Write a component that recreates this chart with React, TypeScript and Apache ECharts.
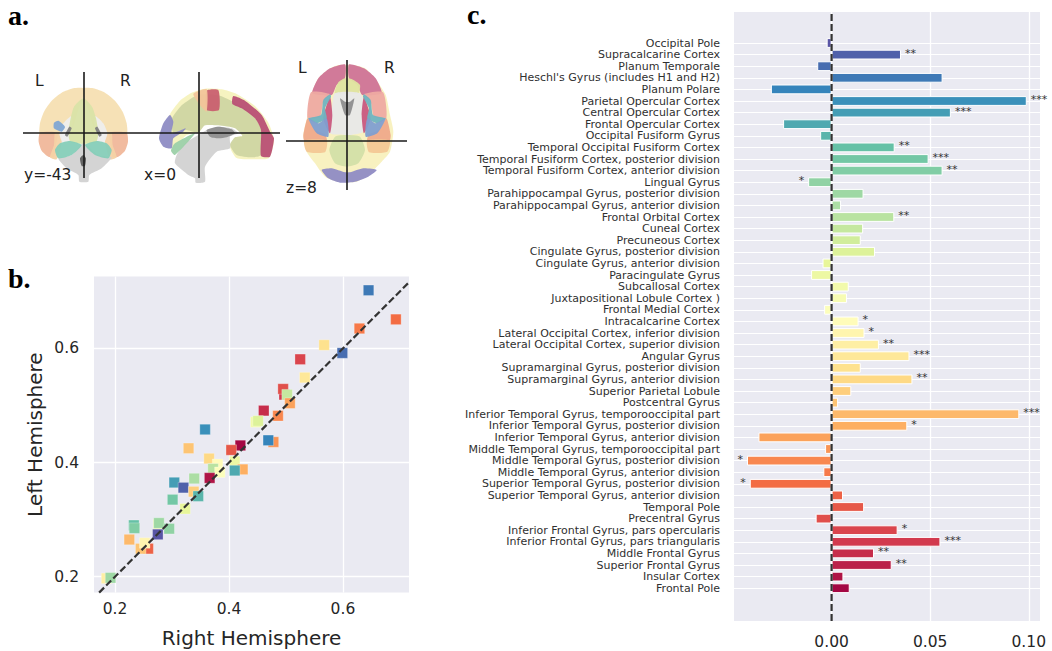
import React, { useEffect, useRef } from "react";
import * as echarts from "echarts";

const regions = [
  "Occipital Pole", "Supracalcarine Cortex", "Planum Temporale", "Heschl's Gyrus (includes H1 and H2)", "Planum Polare",
  "Parietal Opercular Cortex", "Central Opercular Cortex", "Frontal Opercular Cortex", "Occipital Fusiform Gyrus",
  "Temporal Occipital Fusiform Cortex", "Temporal Fusiform Cortex, posterior division", "Temporal Fusiform Cortex, anterior division",
  "Lingual Gyrus", "Parahippocampal Gyrus, posterior division", "Parahippocampal Gyrus, anterior division", "Frontal Orbital Cortex",
  "Cuneal Cortex", "Precuneous Cortex", "Cingulate Gyrus, posterior division", "Cingulate Gyrus, anterior division",
  "Paracingulate Gyrus", "Subcallosal Cortex", "Juxtapositional Lobule Cortex )", "Frontal Medial Cortex", "Intracalcarine Cortex",
  "Lateral Occipital Cortex, inferior division", "Lateral Occipital Cortex, superior division", "Angular Gyrus",
  "Supramarginal Gyrus, posterior division", "Supramarginal Gyrus, anterior division", "Superior Parietal Lobule", "Postcentral Gyrus",
  "Inferior Temporal Gyrus, temporooccipital part", "Inferior Temporal Gyrus, posterior division", "Inferior Temporal Gyrus, anterior division",
  "Middle Temporal Gyrus, temporooccipital part", "Middle Temporal Gyrus, posterior division", "Middle Temporal Gyrus, anterior division",
  "Superior Temporal Gyrus, posterior division", "Superior Temporal Gyrus, anterior division", "Temporal Pole", "Precentral Gyrus",
  "Inferior Frontal Gyrus, pars opercularis", "Inferior Frontal Gyrus, pars triangularis", "Middle Frontal Gyrus", "Superior Frontal Gyrus",
  "Insular Cortex", "Frontal Pole",
];
const asymmetry = [
  -0.0025, 0.0352, -0.0073, 0.0563, -0.0308, 0.099, 0.0605, -0.0246, -0.0058, 0.032, 0.0492, 0.0563,
  -0.0119, 0.0162, 0.0048, 0.0318, 0.016, 0.0148, 0.022, -0.0046, -0.0104, 0.0087, 0.0078, -0.0038,
  0.0137, 0.0167, 0.024, 0.0395, 0.0148, 0.041, 0.01, 0.0033, 0.0952, 0.0384, -0.0371, -0.0033,
  -0.0429, -0.0042, -0.0415, 0.0058, 0.0165, -0.0081, 0.0335, 0.0552, 0.0215, 0.0305, 0.006, 0.0092,
];
const stars = [
  "", "**", "", "", "", "***", "***", "", "", "**", "***", "**",
  "*", "", "", "**", "", "", "", "", "", "", "", "",
  "*", "*", "**", "***", "", "**", "", "", "***", "*", "", "",
  "*", "", "*", "", "", "", "*", "***", "**", "**", "", "",
];
const rightHemisphere = [
  0.645, 0.693, 0.629, 0.567, 0.599, 0.525, 0.533, 0.497, 0.495, 0.502, 0.507, 0.461, 0.486, 0.447, 0.451, 0.478,
  0.469, 0.358, 0.329, 0.42, 0.404, 0.365, 0.38, 0.41, 0.372, 0.424, 0.41, 0.384, 0.366, 0.339, 0.304, 0.32,
  0.338, 0.346, 0.301, 0.323, 0.233, 0.234, 0.276, 0.277, 0.295, 0.275, 0.225, 0.258, 0.245, 0.252, 0.185, 0.192,
];
const leftHemisphere = [
  0.702, 0.651, 0.635, 0.606, 0.592, 0.581, 0.549, 0.519, 0.529, 0.519, 0.504, 0.491, 0.482, 0.471, 0.473, 0.436,
  0.439, 0.458, 0.425, 0.43, 0.422, 0.407, 0.397, 0.402, 0.389, 0.388, 0.386, 0.383, 0.373, 0.372, 0.365, 0.356,
  0.349, 0.341, 0.335, 0.319, 0.29, 0.285, 0.292, 0.294, 0.284, 0.274, 0.265, 0.249, 0.249, 0.259, 0.197, 0.198,
];
const scatterRegionIndex = [
  3, 38, 37, 28, 2, 42, 27, 43, 41, 16, 34, 44, 36, 21, 18, 35,
  4, 5, 31, 47, 40, 29, 24, 20, 15, 33, 7, 23, 46, 14, 6, 1,
  30, 8, 10, 19, 9, 11, 22, 13, 12, 0, 32, 39, 31, 25, 26, 13,
];
const xTicks = [0.2, 0.4, 0.6];
const yTicks = [0.2, 0.4, 0.6];
const barTicks = [0, 0.05, 0.1];

const spectral = ["#5e4fa2", "#3288bd", "#66c2a5", "#abdda4", "#e6f598", "#ffffbf", "#fee08b", "#fdae61", "#f46d43", "#d53e4f", "#9e0142"];
function paletteColor(i: number, n: number) {
  const t = ((i + 0.5) / n) * (spectral.length - 1);
  const k = Math.min(Math.floor(t), spectral.length - 2);
  const f = t - k;
  const a = parseInt(spectral[k].slice(1), 16);
  const b = parseInt(spectral[k + 1].slice(1), 16);
  const c = [16, 8, 0].map((s) => Math.round(((a >> s) & 255) * (1 - f) + ((b >> s) & 255) * f));
  return `rgb(${c[0]},${c[1]},${c[2]})`;
}

type Shape = { fill: string; pts: number[][]; mirror?: boolean };
const coronal: Shape[] = [
  { fill: "#f5dfb2", mirror: true, pts: [[160, 25], [130, 25], [95, 38], [65, 62], [42, 95], [30, 130], [30, 165], [90, 165], [125, 150], [145, 90], [160, 50]] },
  { fill: "#f0b79a", mirror: true, pts: [[30, 158], [26, 185], [35, 212], [55, 230], [72, 232], [78, 195], [82, 158]] },
  { fill: "#f4d2a5", mirror: true, pts: [[75, 158], [95, 160], [95, 190], [80, 238], [60, 232], [72, 195]] },
  { fill: "#eeeeee", mirror: true, pts: [[125, 108], [100, 130], [88, 160], [98, 188], [125, 180]] },
  { fill: "#d9e3a8", pts: [[160, 55], [132, 80], [122, 115], [115, 160], [122, 187], [160, 192], [198, 187], [205, 160], [198, 115], [186, 80]] },
  { fill: "#d2d2d2", pts: [[160, 190], [125, 225], [85, 235], [110, 265], [145, 285], [148, 305], [175, 305], [178, 285], [215, 265], [245, 232], [205, 225]] },
  { fill: "#86cdb8", mirror: true, pts: [[120, 183], [90, 190], [75, 210], [85, 235], [125, 225], [155, 195]] },
  { fill: "#7f7f7f", mirror: true, pts: [[118, 140], [125, 145], [112, 170], [105, 165]] },
  { fill: "#5f5f5f", pts: [[160, 225], [168, 235], [165, 258], [155, 258], [150, 235]] },
  { fill: "#7fa6d4", pts: [[72, 128], [85, 122], [105, 140], [95, 155], [72, 145]] },
];
const sagittal: Shape[] = [
  { fill: "#f5f2bd", pts: [[42, 110], [75, 62], [110, 38], [150, 26], [200, 28], [245, 42], [300, 78], [340, 128], [357, 180], [342, 234], [300, 238], [245, 234], [225, 200], [245, 172], [280, 165], [250, 145], [190, 130], [150, 130], [130, 155], [95, 165], [50, 205]] },
  { fill: "#cfd5a2", pts: [[50, 118], [80, 76], [130, 44], [190, 46], [235, 66], [290, 100], [320, 150], [318, 225], [290, 232], [245, 225], [225, 195], [240, 172], [262, 168], [240, 145], [190, 136], [150, 136], [130, 158], [92, 150], [55, 158]] },
  { fill: "#d2d2d2", pts: [[130, 165], [90, 190], [65, 225], [60, 250], [100, 285], [120, 295], [122, 308], [150, 305], [150, 260], [185, 215], [225, 205], [225, 170], [250, 160], [230, 145], [190, 140], [155, 150]] },
  { fill: "#8f8f8f", pts: [[155, 150], [190, 140], [230, 148], [240, 160], [215, 172], [190, 175], [165, 170]] },
  { fill: "#b84f74", pts: [[235, 48], [270, 62], [320, 105], [345, 155], [357, 175], [345, 230], [318, 228], [318, 150], [300, 115], [260, 85], [232, 72]] },
  { fill: "#c96070", pts: [[155, 32], [190, 30], [192, 90], [155, 90]] },
  { fill: "#f2c49a", pts: [[115, 42], [155, 28], [155, 95], [135, 75]] },
  { fill: "#8e8cc4", pts: [[45, 105], [55, 125], [50, 160], [92, 145], [85, 155], [55, 175], [50, 205], [25, 200], [12, 175], [25, 130]] },
  { fill: "#9cd0a8", pts: [[48, 212], [60, 190], [120, 160], [60, 225]] },
];
const axial: Shape[] = [
  { fill: "#f8f0bd", pts: [[130, 30], [105, 40], [70, 70], [48, 120], [38, 180], [25, 240], [35, 290], [60, 325], [90, 365], [130, 380], [185, 380], [220, 360], [260, 320], [285, 290], [295, 230], [285, 180], [272, 120], [240, 70], [210, 40], [175, 30]] },
  { fill: "#cf7397", mirror: true, pts: [[150, 28], [105, 40], [70, 70], [52, 115], [110, 120], [125, 90], [150, 70]] },
  { fill: "#eeaaa2", mirror: true, pts: [[48, 112], [105, 118], [85, 140], [75, 185], [38, 190]] },
  { fill: "#efa98a", mirror: true, pts: [[38, 190], [25, 240], [28, 256], [95, 256], [90, 238], [60, 225]] },
  { fill: "#f3c795", mirror: true, pts: [[28, 256], [35, 290], [90, 292], [95, 256]] },
  { fill: "#8f8bc4", pts: [[80, 345], [110, 340], [150, 352], [165, 352], [205, 340], [245, 345], [220, 365], [180, 380], [135, 383], [100, 370]] },
  { fill: "#dfe3a0", pts: [[130, 82], [150, 70], [170, 72], [195, 90], [190, 115], [120, 115]] },
  { fill: "#e8e8e8", pts: [[120, 115], [195, 115], [215, 170], [205, 230], [165, 240], [150, 240], [105, 235], [110, 170]] },
  { fill: "#c9597e", mirror: true, pts: [[105, 125], [85, 190], [105, 235], [112, 180]] },
  { fill: "#6fb3c0", mirror: true, pts: [[105, 118], [85, 135], [78, 180], [40, 190], [65, 205], [95, 190], [90, 160], [108, 125]] },
  { fill: "#7f9ed0", mirror: true, pts: [[40, 190], [65, 235], [100, 245], [95, 190], [70, 205]] },
  { fill: "#8e8e8e", pts: [[135, 130], [150, 140], [165, 140], [178, 130], [165, 180], [150, 180]] },
  { fill: "#d3dfa8", pts: [[120, 245], [155, 240], [195, 245], [210, 285], [190, 325], [155, 335], [120, 325], [103, 285]] },
];

function shapes(list: Shape[], ox: number, oy: number, axis: number) {
  const out: any[] = [];
  const add = (pts: number[][], fill: string) =>
    out.push({ type: "polygon", silent: true, z: 1, shape: { smooth: 0.2, points: pts.map(([x, y]) => [ox + x / 3, oy + y / 3]) }, style: { fill, opacity: 0.95 } });
  for (const s of list) {
    add(s.pts, s.fill);
    if (s.mirror) add(s.pts.map(([x, y]) => [2 * axis - x, y]), s.fill);
  }
  return out;
}
const rule = (x1: number, y1: number, x2: number, y2: number) => ({
  type: "line", silent: true, z: 2, shape: { x1, y1, x2, y2 }, style: { stroke: "#1a1a1a", lineWidth: 1.6 },
});
const label = (text: string, x: number, y: number) => ({
  type: "text", silent: true, z: 3, x, y,
  style: { text, fill: "#222222", font: '15.5px "DejaVu Sans"', textVerticalAlign: "middle" },
});
const panelTag = (text: string, x: number, y: number) => ({
  type: "text", silent: true, z: 3, x, y,
  style: { text, fill: "#000000", font: 'bold 28px "Liberation Serif"', textVerticalAlign: "middle" },
});

export default function App() {
  const ref = useRef<HTMLDivElement>(null);
  useEffect(() => {
    const chart = echarts.init(ref.current!, undefined, { renderer: "svg" });
    const tickText = { color: "#262626", fontFamily: "DejaVu Sans", fontSize: 15.5 };
    const white = { show: true, lineStyle: { color: "#ffffff", width: 1.3 } };
    chart.setOption({
      animation: false,
      backgroundColor: "#ffffff",
      grid: [
        { left: 94, top: 276.6, width: 315, height: 316, show: true, backgroundColor: "#eaeaf2", borderWidth: 0 },
        { left: 734, top: 12, width: 306, height: 609, show: true, backgroundColor: "#eaeaf2", borderWidth: 0 },
        { left: 734, top: 37.2, width: 306, height: 556.8 },
      ],
      xAxis: [
        {
          gridIndex: 0, type: "value", min: 0.163, max: 0.716, name: "Right Hemisphere", nameLocation: "middle", nameGap: 35,
          nameTextStyle: { color: "#262626", fontFamily: "DejaVu Sans", fontSize: 20 },
          axisLine: { show: false }, axisTick: { show: false, customValues: xTicks },
          axisLabel: { ...tickText, margin: 8, customValues: xTicks, formatter: (v: number) => v.toFixed(1) }, splitLine: white,
        },
        {
          gridIndex: 1, type: "value", min: -0.0495, max: 0.1057,
          axisLine: { show: false }, axisTick: { show: false, customValues: barTicks },
          axisLabel: { ...tickText, margin: 13, customValues: barTicks, formatter: (v: number) => v.toFixed(2) }, splitLine: white,
        },
        { gridIndex: 2, type: "value", min: -0.0495, max: 0.1057, show: false, splitLine: { show: false } },
      ],
      yAxis: [
        {
          gridIndex: 0, type: "value", min: 0.172, max: 0.726, name: "Left Hemisphere", nameLocation: "middle", nameGap: 49,
          nameTextStyle: { color: "#262626", fontFamily: "DejaVu Sans", fontSize: 20 },
          axisLine: { show: false }, axisTick: { show: false, customValues: yTicks },
          axisLabel: { ...tickText, margin: 15, customValues: yTicks, formatter: (v: number) => v.toFixed(1) }, splitLine: white,
        },
        { gridIndex: 1, type: "value", min: 0, max: 1, show: false, splitLine: { show: false } },
        {
          gridIndex: 2, type: "category", inverse: true, data: regions,
          axisLine: { show: false }, axisTick: { show: false },
          axisLabel: { color: "#303030", fontFamily: "DejaVu Sans", fontSize: 11, interval: 0, margin: 14 },
          splitLine: { show: true, alignWithLabel: true, interval: 0, lineStyle: { color: "#ffffff", width: 1.1 } },
        },
      ],
      series: [
        {
          type: "bar", xAxisIndex: 2, yAxisIndex: 2, barWidth: 9.8, z: 3,
          data: asymmetry.map((v, i) => ({
            value: v,
            itemStyle: { color: paletteColor(i, regions.length), borderColor: "#ffffff", borderWidth: 1 },
            label: {
              show: !!stars[i], formatter: stars[i], position: v < 0 ? "left" : "right", distance: 4, offset: [0, -1.5],
              color: "#333333", fontFamily: "DejaVu Sans", fontSize: 11,
            },
          })),
        },
        {
          type: "line", xAxisIndex: 1, yAxisIndex: 1, z: 6, symbol: "none", silent: true,
          data: [[0, 0], [0, 1]],
          lineStyle: { color: "#333333", width: 2.2, type: [7, 3] },
        },
        {
          type: "scatter", xAxisIndex: 0, yAxisIndex: 0, symbol: "rect", symbolSize: 10.5, z: 3,
          data: rightHemisphere.map((x, i) => ({
            value: [x, leftHemisphere[i]],
            itemStyle: { color: paletteColor(scatterRegionIndex[i], regions.length), borderColor: "rgba(255,255,255,0.45)", borderWidth: 0.6, opacity: 1 },
          })),
        },
        {
          type: "line", xAxisIndex: 0, yAxisIndex: 0, z: 6, symbol: "none", silent: true,
          data: [[0.172, 0.172], [0.716, 0.716]],
          lineStyle: { color: "#333333", width: 2.2, type: [7, 3] },
        },
      ],
      graphic: [
        ...shapes(coronal, 30, 80, 160),
        ...shapes(sagittal, 155, 80, 0),
        ...shapes(axial, 295, 55, 156),
        rule(23, 133, 280, 133),
        rule(84, 72, 84, 178),
        rule(199, 72, 199, 178),
        rule(286, 141, 407, 141),
        rule(347, 60, 347, 190),
        label("L", 35, 81),
        label("R", 120, 81),
        label("L", 298, 68),
        label("R", 384, 68),
        label("y=-43", 24, 175),
        label("x=0", 144, 175),
        label("z=8", 286, 188),
        panelTag("a.", 8, 15),
        panelTag("b.", 8, 278),
        panelTag("c.", 467, 14),
      ],
    });
    return () => chart.dispose();
  }, []);
  return <div ref={ref} style={{ position: "absolute", left: 0, top: 0, width: 1052, height: 651 }} />;
}
